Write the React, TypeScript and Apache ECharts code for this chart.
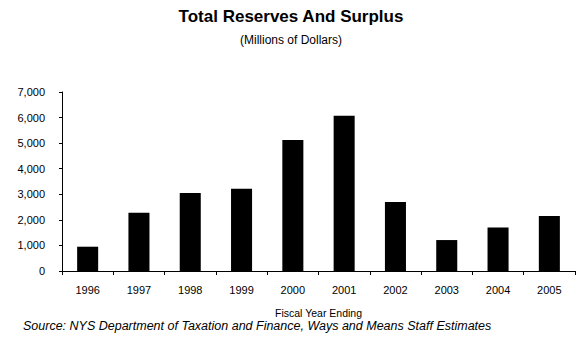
import React, { useEffect, useRef } from "react";
import * as echarts from "echarts";

const years = ["1996", "1997", "1998", "1999", "2000", "2001", "2002", "2003", "2004", "2005"];
const reserves = [950, 2280, 3050, 3220, 5120, 6070, 2700, 1210, 1700, 2150];
const yTicks = [0, 1000, 2000, 3000, 4000, 5000, 6000, 7000];

const titleText = "Total Reserves And Surplus";
const subtitleText = "(Millions of Dollars)";
const axisName = "Fiscal Year Ending";
const sourceText = "Source: NYS Department of Taxation and Finance, Ways and Means Staff Estimates";

const FONT = "Arial, 'Liberation Sans', sans-serif";

export default function App() {
  const ref = useRef<HTMLDivElement>(null);
  useEffect(() => {
    if (!ref.current) return;
    const chart = echarts.init(ref.current, null, { renderer: "svg" });
    chart.setOption({
      animation: false,
      backgroundColor: "#ffffff",
      title: [
        {
          text: titleText,
          left: "center",
          top: 3,
          textStyle: { fontFamily: FONT, fontSize: 17, fontWeight: "bold", color: "#000" },
        },
        {
          text: subtitleText,
          left: "center",
          top: 29,
          textStyle: { fontFamily: FONT, fontSize: 12, fontWeight: "normal", color: "#000" },
        },
        {
          text: sourceText,
          left: 18,
          top: 314,
          textStyle: { fontFamily: FONT, fontSize: 12.5, fontStyle: "italic", fontWeight: "normal", color: "#000" },
        },
      ],
      grid: { left: 62, right: 7, top: 92, bottom: 68, containLabel: false },
      xAxis: {
        type: "category",
        data: years,
        name: axisName,
        nameLocation: "middle",
        nameGap: 36,
        nameTextStyle: { fontFamily: FONT, fontSize: 10.5, color: "#000" },
        axisLine: { lineStyle: { color: "#000", width: 1 } },
        axisTick: { show: true, length: 4, lineStyle: { color: "#000" } },
        axisLabel: { fontFamily: FONT, fontSize: 11, color: "#000", margin: 13 },
      },
      yAxis: {
        type: "value",
        min: 0,
        max: 7000,
        interval: 1000,
        axisLine: { show: true, lineStyle: { color: "#000", width: 1 } },
        axisTick: { show: true, length: 3, lineStyle: { color: "#000" } },
        splitLine: { show: false },
        axisLabel: {
          fontFamily: FONT,
          fontSize: 11,
          color: "#000",
          margin: 17,
          formatter: (v: number) => (yTicks.includes(v) ? v.toLocaleString("en-US") : ""),
        },
      },
      series: [
        {
          type: "bar",
          data: reserves,
          barWidth: "41%",
          itemStyle: { color: "#000" },
        },
      ],
    });
    return () => chart.dispose();
  }, []);
  return (
    <div
      ref={ref}
      style={{ position: "fixed", left: 0, top: 0, width: 582, height: 339 }}
    />
  );
}
